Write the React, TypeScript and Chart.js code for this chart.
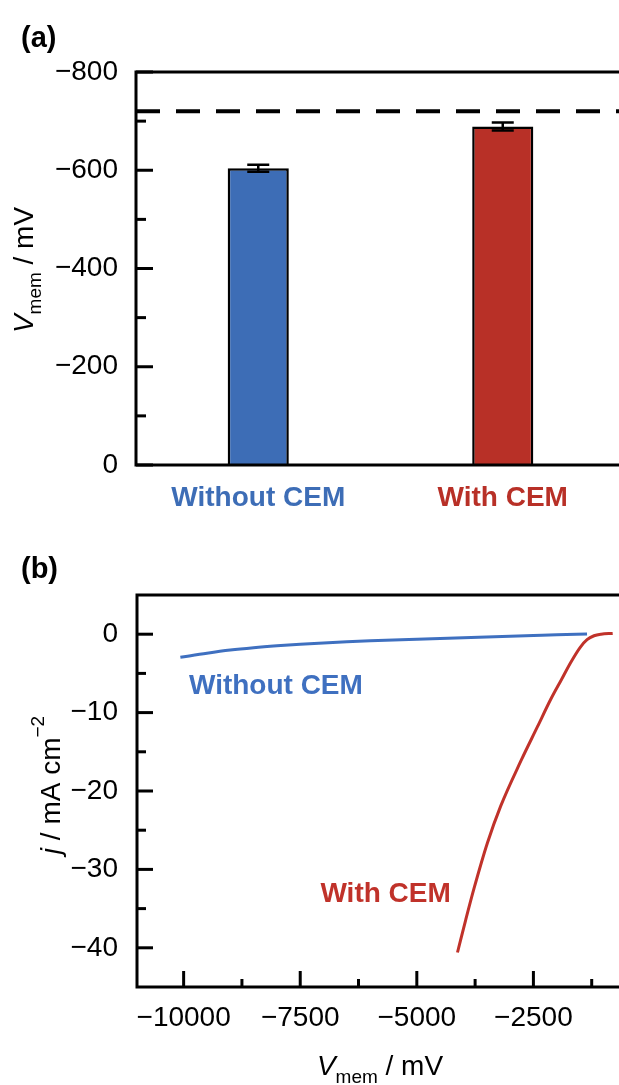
import React, { useEffect, useRef } from 'react';
import { Chart, registerables } from 'chart.js';

Chart.register(...registerables);

const FONT = "'Liberation Sans', Arial, Helvetica, sans-serif";
const MINUS = '\u2212';

// ---------- Panel (a) data ----------
const barCategories = ['Without CEM', 'With CEM'];
const barValues = [-604, -689];
const barErrors = [7, 8];
const barColors = ['#3D6DB6', '#B83027'];
const referenceLevel = -720;
const aYMajorTicks = [-800, -600, -400, -200, 0];
const aYMinorTicks = [-700, -500, -300, -100];

// ---------- Panel (b) data ----------
const withoutCemV = [-10070, -9500, -9000, -8500, -8000, -7500, -7000, -6500, -6000, -5500, -5000, -4500, -4000, -3500, -3000, -2500, -2000, -1350];
const withoutCemJ = [-2.95, -2.42, -2.02, -1.72, -1.48, -1.28, -1.11, -0.97, -0.85, -0.74, -0.64, -0.54, -0.44, -0.35, -0.26, -0.17, -0.08, 0.03];
const withCemV = [-4128, -3950, -3772, -3485, -3200, -2771, -2413, -2128, -1900, -1700, -1500, -1350, -1200, -1050, -800];
const withCemJ = [-40.6, -36.4, -32.4, -26.6, -21.9, -16.2, -11.8, -8.3, -5.8, -3.6, -1.7, -0.7, -0.2, 0.0, 0.1];
const bXMajorTicks = [-10000, -7500, -5000, -2500, 0];
const bXMinorTicks = [-8750, -6250, -3750, -1250];
const bYMajorTicks = [0, -10, -20, -30, -40];
const bYMinorTicks = [-5, -15, -25, -35];
const lineColors = ['#3F70C0', '#C0322A'];

type Seg = { text: string; size: number; italic?: boolean; bold?: boolean; dy?: number };

const fontStr = (s: Seg) => `${s.italic ? 'italic ' : ''}${s.bold ? 'bold ' : ''}${s.size}px ${FONT}`;

function drawRich(ctx: CanvasRenderingContext2D, segs: Seg[], cx: number, baseline: number, rotate: boolean) {
  ctx.save();
  ctx.translate(cx, baseline);
  if (rotate) ctx.rotate(-Math.PI / 2);
  ctx.textAlign = 'left';
  ctx.textBaseline = 'alphabetic';
  ctx.fillStyle = '#000';
  let total = 0;
  const widths = segs.map((s) => {
    ctx.font = fontStr(s);
    const w = ctx.measureText(s.text).width;
    total += w;
    return w;
  });
  let x = -total / 2;
  segs.forEach((s, i) => {
    ctx.font = fontStr(s);
    ctx.fillText(s.text, x, s.dy || 0);
    x += widths[i];
  });
  ctx.restore();
}

function drawFrame(chart: any) {
  const { ctx, chartArea } = chart;
  ctx.save();
  ctx.strokeStyle = '#000';
  ctx.lineWidth = 3;
  ctx.strokeRect(chartArea.left, chartArea.top, chartArea.right - chartArea.left, chartArea.bottom - chartArea.top);
  ctx.restore();
}

function drawYTicks(chart: any, scale: any, values: number[], len: number) {
  const { ctx, chartArea } = chart;
  ctx.save();
  ctx.strokeStyle = '#000';
  ctx.lineWidth = 3;
  values.forEach((v) => {
    const y = scale.getPixelForValue(v);
    ctx.beginPath();
    ctx.moveTo(chartArea.left, y);
    ctx.lineTo(chartArea.left + len, y);
    ctx.stroke();
  });
  ctx.restore();
}

function drawXTicks(chart: any, scale: any, values: number[], len: number) {
  const { ctx, chartArea } = chart;
  ctx.save();
  ctx.strokeStyle = '#000';
  ctx.lineWidth = 3;
  values.forEach((v) => {
    const x = scale.getPixelForValue(v);
    ctx.beginPath();
    ctx.moveTo(x, chartArea.bottom);
    ctx.lineTo(x, chartArea.bottom - len);
    ctx.stroke();
  });
  ctx.restore();
}

const fmt = (v: number) => String(v).replace('-', MINUS);

const panelAPlugin = {
  id: 'panelA',
  afterDatasetsDraw(chart: any) {
    const { ctx } = chart;
    const y = chart.scales.y;
    const meta = chart.getDatasetMeta(0);
    ctx.save();
    ctx.strokeStyle = '#000';
    ctx.lineWidth = 2.5;
    meta.data.forEach((bar: any, i: number) => {
      const top = y.getPixelForValue(barValues[i] - barErrors[i]);
      const bot = y.getPixelForValue(barValues[i] + barErrors[i]);
      const half = 11;
      ctx.beginPath();
      ctx.moveTo(bar.x, top);
      ctx.lineTo(bar.x, bot);
      ctx.moveTo(bar.x - half, top);
      ctx.lineTo(bar.x + half, top);
      ctx.moveTo(bar.x - half, bot);
      ctx.lineTo(bar.x + half, bot);
      ctx.stroke();
    });
    ctx.restore();
  },
  afterDraw(chart: any) {
    const { ctx } = chart;
    drawFrame(chart);
    drawYTicks(chart, chart.scales.y, aYMajorTicks, 17);
    drawYTicks(chart, chart.scales.y, aYMinorTicks, 10);
    drawRich(ctx, [
      { text: 'V', size: 28, italic: true },
      { text: 'mem', size: 19, dy: 8 },
      { text: ' / mV', size: 28 },
    ], 33, 270, true);
    ctx.save();
    ctx.font = `bold 29px ${FONT}`;
    ctx.fillStyle = '#000';
    ctx.textAlign = 'left';
    ctx.textBaseline = 'middle';
    ctx.fillText('(a)', 21, 39);
    ctx.restore();
  },
};

const panelBPlugin = {
  id: 'panelB',
  afterDraw(chart: any) {
    const { ctx } = chart;
    const xs = chart.scales.x;
    const ys = chart.scales.y;
    drawFrame(chart);
    drawYTicks(chart, ys, bYMajorTicks, 16);
    drawYTicks(chart, ys, bYMinorTicks, 9);
    drawXTicks(chart, xs, bXMajorTicks, 16);
    drawXTicks(chart, xs, bXMinorTicks, 8);
    ctx.save();
    ctx.font = `bold 28px ${FONT}`;
    ctx.textBaseline = 'middle';
    ctx.fillStyle = lineColors[0];
    ctx.textAlign = 'left';
    ctx.fillText('Without CEM', xs.getPixelForValue(-9886), ys.getPixelForValue(-6.6));
    ctx.fillStyle = lineColors[1];
    ctx.textAlign = 'right';
    ctx.fillText('With CEM', xs.getPixelForValue(-4271), ys.getPixelForValue(-33.2));
    ctx.font = `bold 29px ${FONT}`;
    ctx.fillStyle = '#000';
    ctx.textAlign = 'left';
    ctx.fillText('(b)', 21, 40);
    ctx.restore();
    drawRich(ctx, [
      { text: 'j', size: 28, italic: true },
      { text: ' / mA cm', size: 28 },
      { text: MINUS + '2', size: 19, dy: -16 },
    ], 60, 785 - 530, true);
    drawRich(ctx, [
      { text: 'V', size: 28, italic: true },
      { text: 'mem', size: 19, dy: 8 },
      { text: ' / mV', size: 28 },
    ], 380, 1075 - 530, false);
  },
};

export default function App() {
  const refA = useRef<HTMLCanvasElement | null>(null);
  const refB = useRef<HTMLCanvasElement | null>(null);

  useEffect(() => {
    const tickFont = { family: FONT, size: 28 };
    const chartA = new Chart(refA.current as HTMLCanvasElement, {
      type: 'bar',
      data: {
        labels: barCategories,
        datasets: [
          {
            type: 'bar',
            data: barValues,
            backgroundColor: barColors,
            borderColor: '#000',
            borderWidth: 2.5,
            grouped: false,
            categoryPercentage: 1,
            barPercentage: 0.25,
          } as any,
          {
            type: 'line',
            xAxisID: 'x2',
            data: [
              { x: 0, y: referenceLevel },
              { x: 1, y: referenceLevel },
            ],
            borderColor: '#000',
            borderWidth: 4,
            borderDash: [24, 16],
            pointRadius: 0,
          } as any,
        ],
      },
      options: {
        animation: false,
        responsive: false,
        devicePixelRatio: 1,
        layout: { padding: { top: 72, right: 75, left: 0, bottom: 0 } },
        plugins: { legend: { display: false }, tooltip: { enabled: false } },
        scales: {
          x: {
            type: 'category',
            offset: true,
            grid: { display: false, drawTicks: false },
            border: { display: false },
            ticks: {
              padding: 16,
              font: { family: FONT, size: 28, weight: 'bold' },
              color: (c: any) => barColors[c.index] || '#000',
            },
            afterFit: (s: any) => { s.height = 65; },
          },
          x2: { type: 'linear', min: 0, max: 1, display: false, offset: false },
          y: {
            type: 'linear',
            min: -800,
            max: 0,
            reverse: true,
            grid: { display: false, drawTicks: false },
            border: { display: false },
            ticks: { padding: 18, font: tickFont, color: '#000', callback: (v: any) => fmt(v) },
            afterBuildTicks: (s: any) => { s.ticks = aYMajorTicks.map((v) => ({ value: v })); },
            afterFit: (s: any) => { s.width = 136; },
          },
        },
      } as any,
      plugins: [panelAPlugin],
    });

    const chartB = new Chart(refB.current as HTMLCanvasElement, {
      type: 'line',
      data: {
        datasets: [
          {
            label: 'Without CEM',
            data: withoutCemV.map((v, i) => ({ x: v, y: withoutCemJ[i] })),
            borderColor: lineColors[0],
            borderWidth: 3,
            pointRadius: 0,
            cubicInterpolationMode: 'monotone',
          } as any,
          {
            label: 'With CEM',
            data: withCemV.map((v, i) => ({ x: v, y: withCemJ[i] })),
            borderColor: lineColors[1],
            borderWidth: 3,
            pointRadius: 0,
            cubicInterpolationMode: 'monotone',
          } as any,
        ],
      },
      options: {
        animation: false,
        responsive: false,
        devicePixelRatio: 1,
        layout: { padding: { top: 65, right: 50, left: 0, bottom: 0 } },
        plugins: { legend: { display: false }, tooltip: { enabled: false } },
        scales: {
          x: {
            type: 'linear',
            min: -11000,
            max: 0,
            grid: { display: false, drawTicks: false },
            border: { display: false },
            ticks: { padding: 14, font: tickFont, color: '#000', callback: (v: any) => fmt(v), maxRotation: 0 },
            afterBuildTicks: (s: any) => { s.ticks = bXMajorTicks.map((v) => ({ value: v })); },
            afterFit: (s: any) => { s.height = 98; },
          },
          y: {
            type: 'linear',
            min: -45,
            max: 5,
            grid: { display: false, drawTicks: false },
            border: { display: false },
            ticks: { padding: 19, font: tickFont, color: '#000', callback: (v: any) => fmt(v) },
            afterBuildTicks: (s: any) => { s.ticks = bYMajorTicks.map((v) => ({ value: v })); },
            afterFit: (s: any) => { s.width = 137; },
          },
        },
      } as any,
      plugins: [panelBPlugin],
    });

    return () => {
      chartA.destroy();
      chartB.destroy();
    };
  }, []);

  return (
    <div style={{ position: 'absolute', left: 0, top: 0, width: 619, height: 1085, overflow: 'hidden', background: '#fff' }}>
      <canvas ref={refA} width={700} height={530} style={{ position: 'absolute', left: 0, top: 0, width: 700, height: 530 }} />
      <canvas ref={refB} width={700} height={555} style={{ position: 'absolute', left: 0, top: 530, width: 700, height: 555 }} />
    </div>
  );
}
